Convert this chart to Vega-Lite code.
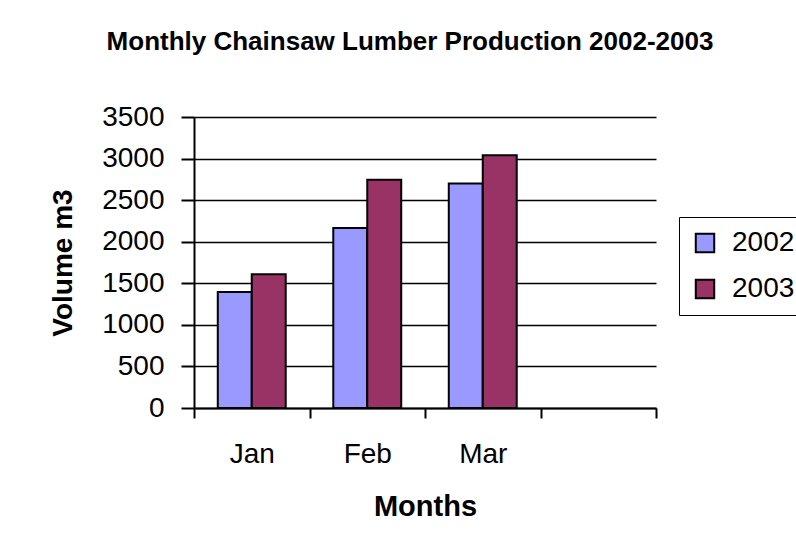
{
  "$schema": "https://vega.github.io/schema/vega-lite/v6.json",
  "autosize": "none",
  "padding": {"left": 194, "top": 117, "right": 140, "bottom": 145},
  "width": 462,
  "height": 291,
  "background": "white",
  "title": {
    "text": "Monthly Chainsaw Lumber Production 2002-2003",
    "font": "Liberation Sans",
    "fontSize": 26,
    "fontWeight": "bold",
    "color": "black",
    "anchor": "middle",
    "dx": -15,
    "offset": 48
  },
  "data": {
    "values": [
      {"month": "Jan", "year": "2002", "volume": 1395},
      {"month": "Jan", "year": "2003", "volume": 1610},
      {"month": "Feb", "year": "2002", "volume": 2165},
      {"month": "Feb", "year": "2003", "volume": 2745},
      {"month": "Mar", "year": "2002", "volume": 2700},
      {"month": "Mar", "year": "2003", "volume": 3040}
    ]
  },
  "mark": {"type": "bar", "stroke": "black", "strokeWidth": 2},
  "encoding": {
    "x": {
      "field": "month",
      "type": "nominal",
      "scale": {"domain": ["Jan", "Feb", "Mar", ""], "paddingInner": 0, "paddingOuter": 0},
      "axis": {
        "title": "Months",
        "labelAngle": 0,
        "tickBand": "extent",
        "tickSize": 10,
        "tickWidth": 2,
        "tickColor": "black",
        "domainColor": "black",
        "domainWidth": 2,
        "labelFont": "Liberation Sans",
        "labelFontSize": 28,
        "labelColor": "black",
        "labelPadding": 22,
        "titleFont": "Liberation Sans",
        "titleFontSize": 29,
        "titleFontWeight": "bold",
        "titleColor": "black",
        "titlePadding": 24
      }
    },
    "xOffset": {
      "field": "year",
      "type": "nominal",
      "scale": {"paddingInner": 0, "paddingOuter": 0.7}
    },
    "y": {
      "field": "volume",
      "type": "quantitative",
      "scale": {"domain": [0, 3500], "nice": false},
      "axis": {
        "title": "Volume m3",
        "format": "d",
        "values": [0, 500, 1000, 1500, 2000, 2500, 3000, 3500],
        "grid": true,
        "gridColor": "black",
        "gridWidth": 1.3,
        "gridOpacity": 1,
        "tickSize": 13,
        "tickWidth": 2,
        "tickColor": "black",
        "domainColor": "black",
        "domainWidth": 2,
        "labelFont": "Liberation Sans",
        "labelFontSize": 28,
        "labelColor": "black",
        "labelPadding": 17,
        "titleFont": "Liberation Sans",
        "titleFontSize": 28,
        "titleFontWeight": "bold",
        "titleColor": "black",
        "titlePadding": 24
      }
    },
    "fill": {
      "field": "year",
      "type": "nominal",
      "scale": {"domain": ["2002", "2003"], "range": ["#9999FF", "#993366"]},
      "legend": {
        "title": null,
        "orient": "none",
        "legendX": 485,
        "legendY": 100,
        "symbolType": "square",
        "symbolSize": 340,
        "symbolStrokeColor": "black",
        "symbolStrokeWidth": 2,
        "symbolOpacity": 1,
        "labelFont": "Liberation Sans",
        "labelFontSize": 28,
        "labelColor": "black",
        "labelOffset": 13,
        "rowPadding": 18,
        "padding": 12,
        "strokeColor": "black",
        "fillColor": "white"
      }
    }
  },
  "config": {
    "view": {"stroke": null}
  }
}
